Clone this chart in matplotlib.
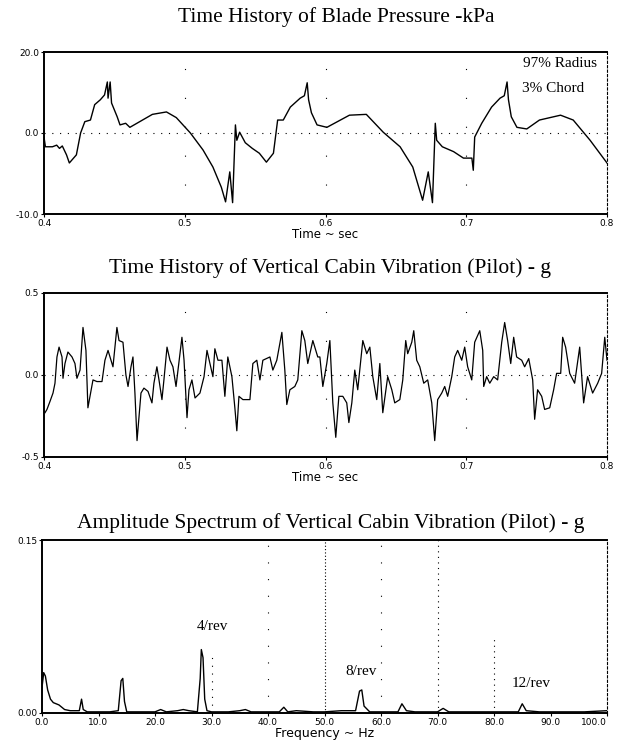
import matplotlib
matplotlib.use("Agg")
import matplotlib.pyplot as plt

# blade pressure (kPa) vs time (s)
press_t = [0.400, 0.401, 0.406, 0.409, 0.411, 0.413, 0.416, 0.418, 0.421, 0.423,
           0.426, 0.429, 0.433, 0.436, 0.440, 0.443, 0.445, 0.4455, 0.447, 0.448,
           0.452, 0.454, 0.458, 0.461, 0.468, 0.477, 0.487, 0.494, 0.504, 0.513,
           0.520, 0.526, 0.529, 0.532, 0.534, 0.536, 0.537, 0.539, 0.543, 0.548,
           0.553, 0.558, 0.563, 0.566, 0.570, 0.575, 0.582, 0.585, 0.587, 0.588,
           0.590, 0.594, 0.601, 0.617, 0.629, 0.641, 0.653, 0.662, 0.669, 0.673,
           0.676, 0.678, 0.679, 0.683, 0.691, 0.698, 0.704, 0.705, 0.706, 0.711,
           0.718, 0.724, 0.727, 0.729, 0.730, 0.732, 0.736, 0.743, 0.752, 0.767,
           0.776, 0.788, 0.800]
press_v = [-0.5, -1.7, -1.7, -1.5, -1.9, -1.6, -2.7, -3.7, -3.1, -2.7,
           0.0, 1.4, 1.6, 3.5, 4.1, 4.7, 6.3, 4.3, 6.3, 3.7,
           2.0, 1.0, 1.2, 0.7, 1.4, 2.3, 2.6, 1.9, 0.0, -2.1,
           -4.2, -6.7, -8.5, -4.8, -8.6, 1.0, -0.9, 0.1, -1.2, -1.9,
           -2.5, -3.6, -2.5, 1.6, 1.6, 3.2, 4.3, 4.6, 6.2, 4.1,
           2.5, 1.0, 0.7, 2.2, 2.3, 0.1, -1.7, -4.2, -8.3, -4.8,
           -8.6, 1.2, -0.9, -1.7, -2.3, -3.1, -3.1, -4.6, -0.5, 1.2,
           3.2, 4.3, 4.6, 6.3, 4.1, 2.0, 0.7, 0.5, 1.6, 2.2,
           1.6, -0.9, -3.7]

# vertical cabin vibration (g) vs time (s)
vib_t = [0.4007, 0.4021, 0.4043, 0.4064, 0.4078, 0.4092, 0.4107, 0.4128, 0.4135, 0.4149,
         0.4170, 0.4199, 0.4220, 0.4234, 0.4256, 0.4277, 0.4298, 0.4312, 0.4327, 0.4348,
         0.4376, 0.4412, 0.4433, 0.4455, 0.4490, 0.4518, 0.4533, 0.4561, 0.4582, 0.4597,
         0.4618, 0.4632, 0.4646, 0.4661, 0.4689, 0.4710, 0.4739, 0.4767, 0.4781, 0.4802,
         0.4817, 0.4838, 0.4852, 0.4874, 0.4895, 0.4916, 0.4938, 0.4952, 0.4980, 0.4995,
         0.5016, 0.5030, 0.5051, 0.5073, 0.5108, 0.5137, 0.5158, 0.5179, 0.5200, 0.5214,
         0.5236, 0.5264, 0.5285, 0.5306, 0.5335, 0.5356, 0.5370, 0.5385, 0.5413, 0.5463,
         0.5484, 0.5512, 0.5534, 0.5555, 0.5605, 0.5626, 0.5654, 0.5690, 0.5711, 0.5725,
         0.5747, 0.5782, 0.5803, 0.5832, 0.5853, 0.5874, 0.5910, 0.5945, 0.5960, 0.5981,
         0.6009, 0.6031, 0.6052, 0.6073, 0.6095, 0.6123, 0.6151, 0.6166, 0.6187, 0.6208,
         0.6229, 0.6265, 0.6293, 0.6315, 0.6336, 0.6364, 0.6386, 0.6407, 0.6442, 0.6471,
         0.6492, 0.6528, 0.6549, 0.6570, 0.6584, 0.6613, 0.6627, 0.6648, 0.6670, 0.6698,
         0.6726, 0.6755, 0.6776, 0.6797, 0.6826, 0.6847, 0.6868, 0.6897, 0.6918, 0.6939,
         0.6968, 0.6989, 0.7010, 0.7039, 0.7060, 0.7096, 0.7117, 0.7124, 0.7145, 0.7167,
         0.7195, 0.7223, 0.7252, 0.7273, 0.7294, 0.7316, 0.7337, 0.7358, 0.7394, 0.7415,
         0.7444, 0.7472, 0.7486, 0.7507, 0.7536, 0.7557, 0.7593, 0.7621, 0.7642, 0.7671,
         0.7685, 0.7706, 0.7735, 0.7770, 0.7806, 0.7834, 0.7862, 0.7898, 0.7934, 0.7962,
         0.7984, 0.8000]
vib_g = [-0.23, -0.21, -0.16, -0.11, -0.05, 0.11, 0.17, 0.11, -0.02, 0.07,
         0.14, 0.11, 0.07, -0.02, 0.03, 0.29, 0.15, -0.20, -0.13, -0.03,
         -0.04, -0.04, 0.09, 0.15, 0.05, 0.29, 0.21, 0.20, 0.00, -0.07,
         0.05, 0.11, -0.11, -0.40, -0.11, -0.08, -0.10, -0.17, -0.05, 0.05,
         -0.03, -0.15, -0.03, 0.17, 0.09, 0.05, -0.07, 0.03, 0.23, 0.09,
         -0.26, -0.09, -0.03, -0.14, -0.11, -0.01, 0.15, 0.07, -0.01, 0.16,
         0.09, 0.09, -0.13, 0.11, -0.01, -0.20, -0.34, -0.13, -0.15, -0.15,
         0.07, 0.09, -0.03, 0.09, 0.11, 0.03, 0.09, 0.26, 0.03, -0.18,
         -0.09, -0.07, -0.03, 0.27, 0.21, 0.07, 0.21, 0.11, 0.11, -0.07,
         0.07, 0.21, -0.17, -0.38, -0.13, -0.13, -0.17, -0.29, -0.17, 0.03,
         -0.09, 0.21, 0.13, 0.17, -0.01, -0.15, 0.07, -0.23, -0.01, -0.09,
         -0.17, -0.15, -0.03, 0.21, 0.13, 0.20, 0.27, 0.09, 0.05, -0.05,
         -0.03, -0.17, -0.40, -0.15, -0.11, -0.07, -0.13, -0.01, 0.11, 0.15,
         0.09, 0.17, 0.05, -0.03, 0.20, 0.27, 0.15, -0.07, -0.01, -0.05,
         -0.01, -0.03, 0.20, 0.32, 0.21, 0.07, 0.23, 0.11, 0.09, 0.05,
         0.10, -0.03, -0.27, -0.09, -0.13, -0.21, -0.20, -0.09, 0.01, 0.01,
         0.23, 0.17, 0.01, -0.05, 0.17, -0.17, -0.01, -0.11, -0.05, 0.01,
         0.23, 0.09]

# amplitude spectrum (g) vs frequency (Hz)
freq = [0.0, 0.3, 0.6, 1.0, 1.5, 2.0, 3.0, 4.0, 5.0, 6.0, 6.6, 7.0, 7.3, 8.0,
        10.0, 12.0, 13.5, 14.0, 14.3, 14.6, 15.0, 17.0, 20.0, 21.0, 22.0, 24.0,
        25.0, 26.0, 27.5, 28.0, 28.2, 28.5, 28.8, 29.2, 30.0, 33.0, 35.0, 36.0,
        37.0, 40.0, 42.0, 42.8, 43.5, 45.0, 48.0, 50.0, 53.0, 55.5, 56.2, 56.6,
        57.0, 58.0, 60.0, 63.0, 63.7, 64.5, 66.0, 70.0, 71.0, 72.0, 75.0, 80.0,
        84.3, 85.0, 85.7, 88.0, 92.0, 96.0, 100.0]
amp = [0.022, 0.035, 0.032, 0.020, 0.012, 0.009, 0.007, 0.003, 0.002, 0.002, 0.002, 0.012, 0.003, 0.001,
       0.001, 0.001, 0.002, 0.028, 0.030, 0.010, 0.001, 0.001, 0.001, 0.003, 0.001, 0.002,
       0.003, 0.002, 0.001, 0.030, 0.055, 0.048, 0.012, 0.002, 0.001, 0.001, 0.002, 0.003,
       0.001, 0.001, 0.001, 0.005, 0.001, 0.002, 0.001, 0.001, 0.002, 0.002, 0.019, 0.020,
       0.006, 0.001, 0.001, 0.001, 0.008, 0.002, 0.001, 0.001, 0.004, 0.001, 0.001, 0.001,
       0.001, 0.008, 0.002, 0.001, 0.001, 0.001, 0.002]

serif = ["Liberation Serif", "DejaVu Serif"]
tick_fs = 6.5
title_fs = 15.5
note_fs = 11

fig = plt.figure(figsize=(6.17, 7.46), dpi=100)
W, H = 617, 746


def make_axes(left, top, right, bottom):
    ax = fig.add_axes([left / W, 1 - bottom / H, (right - left) / W, (bottom - top) / H])
    for s in ["top", "bottom", "left"]:
        ax.spines[s].set_linewidth(1.4)
    ax.spines["right"].set_linestyle((0, (2, 2)))
    ax.spines["right"].set_linewidth(0.8)
    ax.tick_params(labelsize=tick_fs, length=2, width=0.8, direction="out", pad=1.5)
    return ax


# panel 1
ax1 = make_axes(44, 52, 607, 214)
ax1.plot(press_t, press_v, color="black", lw=1.0)
ax1.axhline(0, color="black", lw=0.8, ls=(0, (1, 6)))
for xv in [0.5, 0.6, 0.7]:
    ax1.axvline(xv, color="black", lw=0.8, ls=(0, (1, 25)))
ax1.set_xlim(0.4, 0.8)
ax1.set_ylim(-10, 10)
ax1.set_xticks([0.4, 0.5, 0.6, 0.7, 0.8])
ax1.set_xticklabels(["0.4", "0.5", "0.6", "0.7", "0.8"])
ax1.set_yticks([-10, 0, 10])
ax1.set_yticklabels(["-10.0", "0.0", "20.0"])
ax1.set_xlabel("Time ~ sec", fontsize=8.5, labelpad=0)
ax1.text(0.982, 0.932, "97% Radius", transform=ax1.transAxes, ha="right", va="center",
         fontsize=note_fs, family=serif)
ax1.text(0.849, 0.772, "3% Chord", transform=ax1.transAxes, ha="left", va="center",
         fontsize=note_fs, family=serif)
fig.text(336 / W, 1 - 17 / H, "Time History of Blade Pressure -kPa", ha="center",
         va="center", fontsize=title_fs, family=serif)

# panel 2
ax2 = make_axes(44, 293, 607, 457)
ax2.plot(vib_t, vib_g, color="black", lw=0.9)
ax2.axhline(0, color="black", lw=0.8, ls=(0, (1, 6)))
for xv in [0.5, 0.6, 0.7]:
    ax2.axvline(xv, color="black", lw=0.8, ls=(0, (1, 25)))
ax2.set_xlim(0.4, 0.8)
ax2.set_ylim(-0.5, 0.5)
ax2.set_xticks([0.4, 0.5, 0.6, 0.7, 0.8])
ax2.set_xticklabels(["0.4", "0.5", "0.6", "0.7", "0.8"])
ax2.set_yticks([-0.5, 0, 0.5])
ax2.set_yticklabels(["-0.5", "0.0", "0.5"])
ax2.set_xlabel("Time ~ sec", fontsize=8.5, labelpad=0)
fig.text(330 / W, 1 - 268 / H, "Time History of Vertical Cabin Vibration (Pilot) - g",
         ha="center", va="center", fontsize=title_fs, family=serif)

# panel 3
ax3 = make_axes(42, 540, 607, 713)
ax3.plot(freq, amp, color="black", lw=1.0)
ax3.axvline(50, color="black", lw=0.8, ls=(0, (1, 2)))
ax3.axvline(70, color="black", lw=0.8, ls=(0, (1, 4)))
ax3.plot([80, 80], [0, 0.065], color="black", lw=0.8, ls=(0, (1, 4)))
ax3.plot([30, 30], [0, 0.05], color="black", lw=0.8, ls=(0, (1, 6)))
ax3.plot([40, 40], [0, 0.15], color="black", lw=0.8, ls=(0, (1, 14)))
ax3.plot([60, 60], [0, 0.15], color="black", lw=0.8, ls=(0, (1, 14)))
ax3.set_xlim(0, 100)
ax3.set_ylim(0, 0.15)
ax3.set_xticks([0, 10, 20, 30, 40, 50, 60, 70, 80, 90, 100])
ax3.set_xticklabels(["0.0", "10.0", "20.0", "30.0", "40.0", "50.0", "60.0", "70.0",
                     "80.0", "90.0", "100.0"])
ax3.get_xticklabels()[-1].set_horizontalalignment("right")
ax3.set_yticks([0, 0.15])
ax3.set_yticklabels(["0.00", "0.15"])
ax3.set_xlabel("Frequency ~ Hz", fontsize=9, labelpad=0)
ax3.text(30.2, 0.075, "4/rev", ha="center", va="center", fontsize=note_fs, family=serif)
ax3.text(56.5, 0.036, "8/rev", ha="center", va="center", fontsize=note_fs, family=serif)
ax3.text(86.5, 0.026, "12/rev", ha="center", va="center", fontsize=note_fs, family=serif)
fig.text(331 / W, 1 - 523 / H, "Amplitude Spectrum of Vertical Cabin Vibration (Pilot) - g",
         ha="center", va="center", fontsize=title_fs, family=serif)

fig.savefig("out.png", dpi=100)
